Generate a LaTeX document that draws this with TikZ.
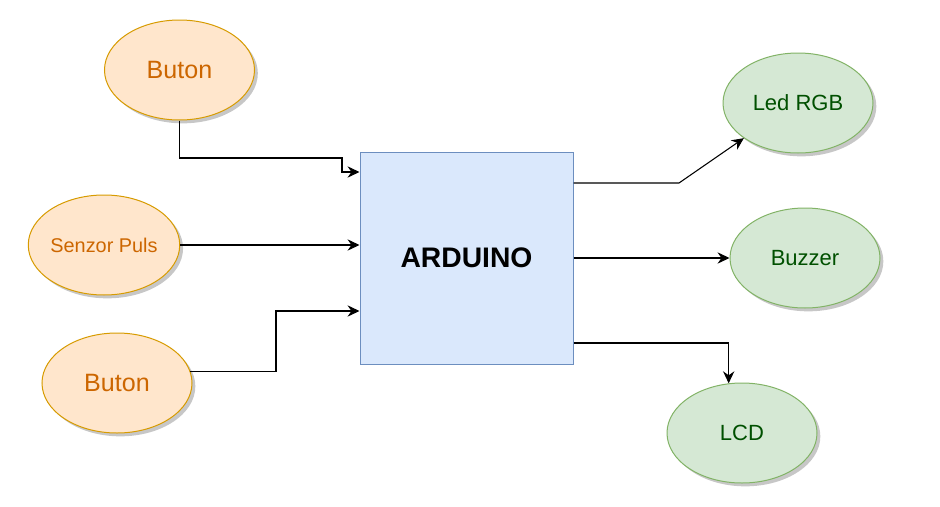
\documentclass[tikz,border=0pt]{standalone}
\usepackage{fontspec}
\setmainfont{Liberation Sans}
\usetikzlibrary{shapes.geometric,arrows.meta,shadows}
\definecolor{ofill}{HTML}{FFE6CC}
\definecolor{odraw}{HTML}{D79B00}
\definecolor{otext}{HTML}{CC6600}
\definecolor{gfill}{HTML}{D5E8D4}
\definecolor{gdraw}{HTML}{82B366}
\definecolor{gtext}{HTML}{005000}
\definecolor{bfill}{HTML}{DAE8FC}
\definecolor{bdraw}{HTML}{6C8EBF}
\tikzset{
  shd/.style={drop shadow={shadow xshift=2.5pt,shadow yshift=-2.5pt,fill=black,opacity=0.22}},
  inbox/.style={ellipse,shd,draw=odraw,fill=ofill,text=otext,line width=0.75pt,minimum width=112.5pt,minimum height=75pt,inner sep=0pt},
  outbox/.style={ellipse,shd,draw=gdraw,fill=gfill,text=gtext,line width=0.75pt,minimum width=112.5pt,minimum height=75pt,inner sep=0pt},
  mainbox/.style={rectangle,draw=bdraw,fill=bfill,line width=0.75pt,minimum width=159.75pt,minimum height=159pt,inner sep=0pt,font=\fontsize{21.2pt}{24pt}\selectfont\bfseries},
  arr/.style={-{Stealth[length=9pt,width=8.5pt,inset=3pt]},line width=0.8pt,draw=black}
}
\begin{document}
\begin{tikzpicture}[x=0.75pt,y=-0.75pt]
\useasboundingbox (0,0) rectangle (940,507);
\node[mainbox] (ard) at (466.5,258) {ARDUINO};
\node[inbox,font=\fontsize{18.8pt}{22pt}\selectfont] (b1) at (179.5,70) {Buton};
\node[inbox,font=\fontsize{14.9pt}{18pt}\selectfont] (sp) at (104,245) {Senzor Puls};
\node[inbox,font=\fontsize{18.8pt}{22pt}\selectfont] (b2) at (117,383) {Buton};
\node[outbox,font=\fontsize{16.5pt}{20pt}\selectfont] (led) at (798,103) {Led RGB};
\node[outbox,font=\fontsize{16.5pt}{20pt}\selectfont] (bz) at (805,258) {Buzzer};
\node[outbox,font=\fontsize{16.5pt}{20pt}\selectfont] (lcd) at (742,433) {LCD};
\coordinate (k1) at (342,158);
\coordinate (k2) at (0,172);
\coordinate (k3) at (276,311);
\coordinate (k4) at (679,183);
\coordinate (k6) at (0,343);
\draw[arr] (b1.south) |- (k1) |- (k2 -| ard.west);
\draw[arr] (sp.east) -- (sp.east -| ard.west);
\draw[arr] (b2.9) -| (k3) -- (k3 -| ard.west);
\draw[arr] (k4 -| ard.east) -- (k4) -- (led.213);
\draw[arr] (bz.west -| ard.east) -- (bz.west);
\draw[arr] (k6 -| ard.east) -| (lcd.105);
\end{tikzpicture}
\end{document}
